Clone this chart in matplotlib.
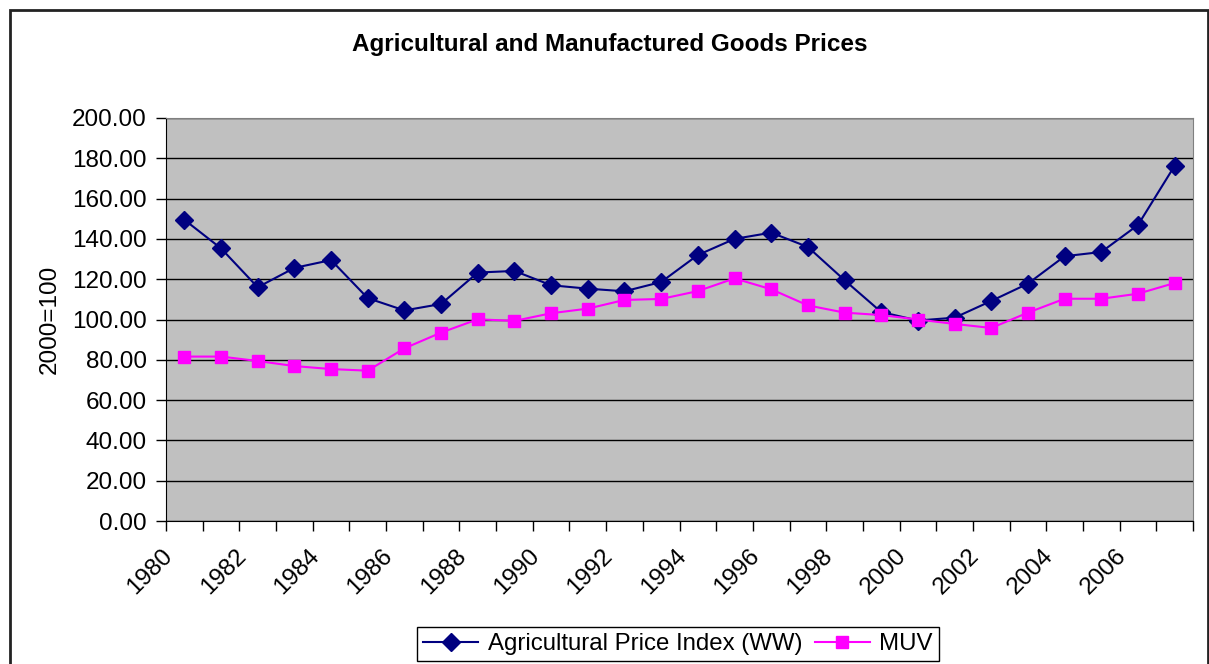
import numpy as np
import matplotlib.pyplot as plt
from matplotlib.patches import Rectangle

plt.rcParams['font.family'] = ['Liberation Sans', 'DejaVu Sans']

# data
years = list(range(1980, 2008))
agri = [149.5, 135.3, 116.0, 125.6, 129.5, 110.6, 104.5, 107.7, 123.3, 124.1,
        117.0, 115.3, 114.0, 118.6, 132.0, 140.0, 143.1, 136.0, 119.5, 103.7,
        99.5, 100.9, 109.2, 117.8, 131.4, 133.5, 146.9, 176.3]
muv = [81.6, 81.6, 79.4, 76.9, 75.4, 74.6, 85.7, 93.5, 100.1, 99.3,
       103.1, 105.4, 109.7, 110.2, 114.1, 120.4, 115.0, 107.0, 103.4, 102.2,
       100.0, 97.8, 95.8, 103.4, 110.3, 110.3, 112.8, 118.1]
yticks = np.arange(0, 201, 20)

W, H = 1209, 664
fig = plt.figure(figsize=(W / 100, H / 100), dpi=100)
ax = fig.add_axes([166 / W, 1 - 521 / H, (1193 - 166) / W, (521 - 118) / H])
ax.set_facecolor('#C0C0C0')

x = np.arange(len(years))
ax.plot(x, agri, color='#000080', lw=1.5, marker='D', markersize=9.5,
        label='Agricultural Price Index (WW)', zorder=3)
ax.plot(x, muv, color='#FF00FF', lw=1.5, marker='s', markersize=9,
        label='MUV', zorder=3)

ax.set_xlim(-0.5, len(years) - 0.5)
ax.set_ylim(0, 200)
ax.set_yticks(yticks)
ax.set_yticklabels(['%.2f' % v for v in yticks])
ax.yaxis.grid(True, color='black', lw=1)
ax.set_axisbelow(True)

# tick marks between categories, labels every 2 years
ax.set_xticks(np.arange(-0.5, len(years), 1))
ax.set_xticklabels([])
ax.set_xticks(x[::2] - 0.2, minor=True)
ax.set_xticklabels([str(y) for y in years[::2]], minor=True, rotation=45,
                   ha='right', fontsize=17.5)
ax.tick_params(axis='x', which='minor', length=0, pad=17)
ax.tick_params(axis='x', which='major', length=7, direction='out', width=1)
ax.tick_params(axis='y', length=7, direction='out', width=1, labelsize=17.5, pad=7)

for s in ['top', 'right']:
    ax.spines[s].set_color('#808080')
for s in ['left', 'bottom']:
    ax.spines[s].set_color('black')

ax.set_ylabel('2000=100', fontsize=17.5, labelpad=8)
fig.text(610 / W, 1 - 45 / H, 'Agricultural and Manufactured Goods Prices',
         ha='center', va='center', fontsize=17.5, fontweight='bold')

fig.legend(loc='center', bbox_to_anchor=(678 / W, 1 - 644 / H), ncol=2,
           fontsize=17.3, frameon=True, fancybox=False, edgecolor='black',
           handlelength=2.3, columnspacing=0.5, handletextpad=0.4,
           borderpad=0.25, borderaxespad=0, framealpha=1)

fig.patches.append(Rectangle((9.5 / W, -0.02), (1207.5 - 9.5) / W, 1.02 - 10 / H,
                             transform=fig.transFigure, fill=False,
                             edgecolor='#222222', lw=2))

plt.savefig('out.png', dpi=100)
